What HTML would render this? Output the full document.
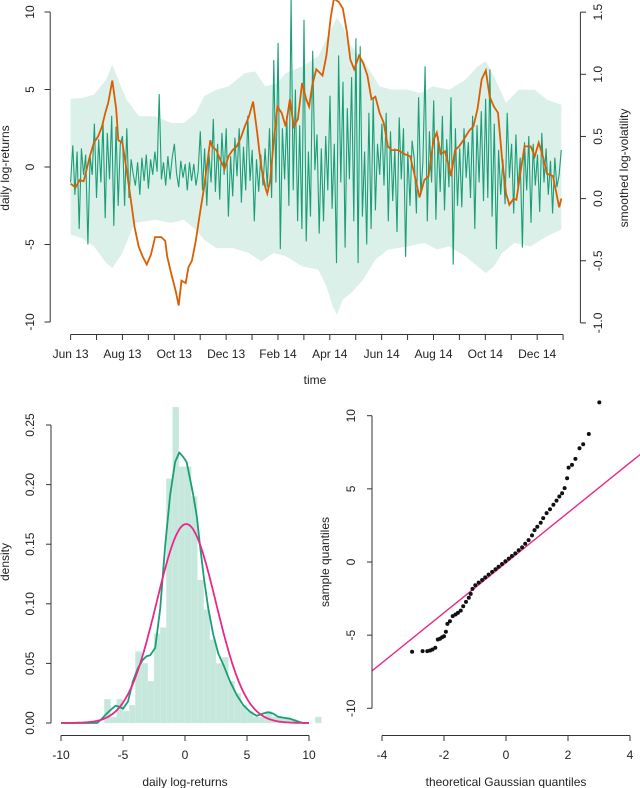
<!DOCTYPE html>
<html><head><meta charset="utf-8">
<style>
html,body{margin:0;padding:0;background:#fff;}
svg{display:block;font-family:"Liberation Sans",sans-serif;}
text{fill:#222;font-size:12px;}
</style></head>
<body>
<svg id="s" width="640" height="788" viewBox="0 0 640 788" xmlns="http://www.w3.org/2000/svg"></svg>
<script>
// ---------- top chart data ----------
const monthLabels = ["Jun 13","Aug 13","Oct 13","Dec 13","Feb 14","Apr 14","Jun 14","Aug 14","Oct 14","Dec 14"];
const retTicks = [-10,-5,0,5,10];
const volTicks = [-1.0,-0.5,0.0,0.5,1.0,1.5];
const returnsEnd = 18.93;
const returns = [
-1,1.4,-1.8,1,-4,1.2,-0.5,0.8,-5,0.7,-0.5,2.8,-2,1.8,-1,3,-3.3,2.2,-0.8,3.3,-3.8,2.6,-2.5,1.5,
2,-2.5,2.5,-2,0.5,-0.5,-1.2,0.3,-1.8,0.6,-0.9,0.8,-1.4,0.5,-0.5,1,-0.3,4.7,-0.8,0.3,-1.2,0.7,-0.8,0.6,1.5,-0.4,-1.3,0.4,-0.7,0.2,-1.5,0.3,-0.9,0.2,-1.2,-0.3,
2.3,-1.5,1.2,-2.5,0.9,-1,3.1,-1.6,1.5,-2.1,2.2,-0.5,2.5,-3.2,0.7,-1.9,1.9,-0.6,2.5,-2.3,1.3,-1.5,3.3,-0.9,1.1,-3.5,0.5,-1.6,0.8,-1.2,
1.2,-1.3,2.5,-2,6.9,-1,8,-5.3,2.5,-0.8,3.3,-2.5,10.9,-1.5,5,-3.5,2.7,-4,9.5,-4.8,1,-3.2,7.5,-0.2,2.1,-4.3,1.2,-3.5,2,-1.5,4.6,-2.7,1.5,-6.2,7.2,-1,5.5,-5.2,3.8,-0.8,5.8,-3.5,8.3,-6.2,7.8,-3.2,1,-5,3.5,-4,4.5,-2.8,1.5,-0.5,
2.8,-1.2,3.5,-3.5,2.3,-2.2,1.2,-4.2,3.2,-0.8,2.5,-5.8,1,-2.5,1.7,0.5,-3,4.5,-1.8,0.3,6.5,-3.5,2.3,-1,4.3,-3.4,2,-1.6,3.3,-2.8,1.8,-1.3,4.5,-6.3,2.5,-2.5,1.2,-2.6,2.5,-0.7,1.6,-2,3.3,-4,2.7,-1,3.6,-2.2,
4.4,-2,6.3,-3.2,2.8,-5.3,1.1,-1.8,0.5,-2.4,3.5,-0.7,1.5,-3,2.1,-1.4,0.6,-5.2,1.6,-1.5,2,-3.6,1.5,-1.2,0.8,-2.9,2.2,-1,1.2,-1.8,0.4,-3,0.6,-1.3,-0.5,1.1];
const volTime = [0,0.19,0.35,0.5,0.58,0.74,0.9,1.06,1.21,1.34,1.45,1.61,1.76,1.84,2,2.16,2.31,2.47,2.63,2.79,2.94,3.1,3.26,3.5,3.65,3.73,3.89,4.05,4.17,4.28,4.44,4.55,4.68,4.83,4.99,5.15,5.31,5.39,5.46,5.62,5.78,5.94,6.09,6.25,6.41,6.57,6.72,6.88,7.04,7.2,7.35,7.51,7.59,7.7,7.83,7.98,8.14,8.3,8.46,8.61,8.77,8.93,9.09,9.2,9.32,9.48,9.72,9.87,10.03,10.16,10.35,10.5,10.66,10.79,10.94,11.13,11.29,11.45,11.61,11.76,11.92,12.08,12.24,12.39,12.63,12.87,13.1,13.26,13.46,13.65,13.81,14,14.13,14.28,14.44,14.6,14.68,14.83,14.99,15.15,15.39,15.54,15.7,15.86,16.02,16.17,16.33,16.49,16.65,16.8,16.93,17.09,17.2,17.35,17.51,17.75,17.91,18.06,18.22,18.38,18.61,18.85,18.93];
const volValue = [0.12,0.09,0.15,0.14,0.2,0.34,0.45,0.5,0.58,0.69,0.77,0.95,0.72,0.47,0.45,0.23,0.01,-0.23,-0.39,-0.47,-0.53,-0.45,-0.31,-0.31,-0.34,-0.47,-0.61,-0.74,-0.86,-0.66,-0.68,-0.55,-0.5,-0.34,-0.12,0.09,0.34,0.47,0.42,0.39,0.31,0.24,0.34,0.39,0.42,0.49,0.58,0.66,0.78,0.53,0.26,0.09,0.04,0.15,0.45,0.74,0.69,0.58,0.8,0.58,0.64,0.93,0.8,0.74,0.91,1.04,0.99,1.15,1.45,1.61,1.58,1.53,1.34,1.12,1.04,1.15,1.09,0.99,0.8,0.82,0.69,0.61,0.42,0.39,0.39,0.36,0.34,0.2,0.01,0.15,0.18,0.47,0.53,0.36,0.38,0.26,0.18,0.39,0.42,0.47,0.55,0.58,0.72,0.96,1.03,0.82,0.74,0.69,0.31,0.04,-0.05,0,-0.01,0.2,0.42,0.42,0.34,0.45,0.34,0.2,0.18,-0.07,0];
const bandUpTime = [0,0.43,0.9,1.37,1.61,1.84,2.16,2.63,3.26,3.89,4.36,4.83,5.15,5.62,6.09,6.72,7.12,7.51,7.98,8.3,8.93,9.56,10.03,10.27,10.5,10.82,11.29,11.61,11.92,12.39,13.02,13.5,13.97,14.6,15.23,15.7,16.02,16.33,16.8,17.28,17.91,18.38,18.93];
const bandUp = [4.39,4.45,4.67,5.63,6.6,5.63,4.34,3.27,3.27,2.84,2.84,3.48,4.56,4.99,5.2,6.06,6.17,5.2,5.42,6.06,6.49,7.14,8.86,9.61,9.08,7.78,6.92,6.06,5.2,4.99,4.99,4.77,5.2,4.99,5.63,6.49,6.82,5.85,4.13,4.99,4.99,4.34,4.02];
const bandLoTime = [0,0.43,0.9,1.37,1.61,2,2.47,3.26,3.89,4.36,4.83,5.15,5.62,6.25,6.88,7.35,7.83,8.3,8.93,9.56,9.87,10.11,10.27,10.5,10.82,11.29,11.76,12.24,13.02,13.65,14.13,14.6,15.23,15.7,16.02,16.33,16.65,17.12,17.75,18.38,18.93];
const bandLo = [-4.37,-4.58,-5.12,-6.19,-6.52,-5.55,-3.61,-3.4,-3.61,-3.4,-4.04,-4.69,-5.23,-5.23,-5.55,-6.09,-5.55,-5.76,-6.41,-6.62,-7.7,-8.99,-9.53,-8.56,-8.13,-7.27,-5.98,-5.33,-5.12,-4.9,-5.33,-5.12,-5.76,-6.41,-6.84,-6.41,-5.55,-4.9,-5.12,-4.47,-4.04];

// ---------- histogram data ----------
const histLeft = [-6.5,-6,-5.5,-5,-4.5,-4,-3.5,-3,-2.5,-2,-1.5,-1,-0.5,0,0.5,1,1.5,2,2.5,3,3.5,4,4.5,5,5.5,6,6.5,7,7.5,8,8.5,10.5];
const histDensity = [0.02,0.005,0.02,0.01,0.015,0.06,0.05,0.035,0.075,0.08,0.205,0.265,0.215,0.215,0.19,0.12,0.095,0.07,0.05,0.055,0.035,0.025,0.015,0.01,0.005,0.005,0.01,0.005,0.005,0.005,0.003,0.005];
const histBinWidth = 0.5;
const kdeX = [-10,-7.1,-6.8,-6.4,-6,-5.6,-5.3,-5,-4.6,-4.2,-3.8,-3.4,-3.1,-2.8,-2.4,-2,-1.6,-1.2,-0.8,-0.46,-0.13,0.13,0.4,0.67,0.94,1.21,1.53,1.88,2.28,2.69,3.09,3.63,4.17,4.7,5.24,5.78,6.3,6.7,7.1,7.5,7.9,8.5,9,9.5,10];
const kdeY = [0,0,0.0025,0.007,0.011,0.0145,0.0137,0.012,0.018,0.035,0.046,0.053,0.056,0.057,0.063,0.096,0.149,0.191,0.219,0.227,0.223,0.219,0.205,0.191,0.174,0.149,0.121,0.096,0.074,0.058,0.049,0.035,0.0235,0.015,0.0095,0.006,0.008,0.009,0.008,0.0053,0.0045,0.0034,0.0017,0,0];
const normMean = 0.1, normSd = 2.39;
const histXTicks = [-10,-5,0,5,10];
const histYTicks = [0,0.05,0.1,0.15,0.2,0.25];

// ---------- QQ data ----------
const qqTheo = [-3.03,-2.69,-2.54,-2.45,-2.37,-2.28,-2.2,-2.13,-2.06,-2.0,-1.94,-1.89,-1.81,-1.72,-1.63,-1.55,-1.46,-1.38,-1.29,-1.2,-1.14,-1.08,-0.99,-0.88,-0.77,-0.67,-0.56,-0.45,-0.34,-0.24,-0.13,-0.02,0.09,0.19,0.3,0.41,0.52,0.62,0.73,0.84,0.92,1.01,1.12,1.2,1.31,1.42,1.53,1.63,1.72,1.81,1.89,1.97,2.02,2.13,2.24,2.37,2.49,2.67,3.01];
const qqSample = [-6.14,-6.09,-6.09,-6.05,-5.98,-5.86,-5.3,-5.25,-5.14,-5.07,-4.77,-4.23,-4.05,-3.7,-3.59,-3.48,-3.32,-3.02,-2.73,-2.45,-2.18,-1.84,-1.59,-1.41,-1.23,-1.05,-0.86,-0.68,-0.5,-0.32,-0.14,0.05,0.23,0.41,0.59,0.8,1.0,1.25,1.5,1.82,2.18,2.41,2.68,3.0,3.34,3.61,3.91,4.2,4.48,4.7,5.05,5.73,6.45,6.64,7.05,7.77,8.05,8.75,10.91];
const qqLineIntercept = -0.05, qqLineSlope = 1.71;
const qqXTicks = [-4,-2,0,2,4];
const qqYTicks = [-10,-5,0,5,10];

// ---------- helpers ----------
const NS = "http://www.w3.org/2000/svg";
const svgRoot = document.getElementById('s');
function mk(tag, attrs, parent){
  const e = document.createElementNS(NS, tag);
  for (const k in attrs) e.setAttribute(k, attrs[k]);
  (parent||svgRoot).appendChild(e);
  return e;
}
function txt(x,y,s,rot,parent,anchor){
  const t = mk('text',{x:x,y:y,'text-anchor':anchor||'middle','dominant-baseline':'middle'},parent);
  if(rot) t.setAttribute('transform','rotate(-90 '+x+' '+y+')');
  t.textContent = s;
  return t;
}
const AX = '#333';

// ---------- top chart ----------
const tx = m => 70.6 + m*25.92;
const ty = v => 167 - v*15.5;
const tyv = v => 198.6 - v*124.3;

const defsEl = mk('defs',{});
const cp = mk('clipPath',{id:'topclip'},defsEl);
mk('rect',{x:50,y:0,width:530,height:333},cp);

const topG = mk('g',{'clip-path':'url(#topclip)'});



let bp = '';
bandUpTime.forEach((t,i)=>{ bp += (i?'L':'M')+tx(t).toFixed(1)+','+ty(bandUp[i]).toFixed(1); });
for(let i=bandLoTime.length-1;i>=0;i--){ bp += 'L'+tx(bandLoTime[i]).toFixed(1)+','+ty(bandLo[i]).toFixed(1); }
const band = mk('path',{d:bp+'Z',fill:'#dcf0ea',stroke:'none'},topG);



let rp = '';
returns.forEach((v,i)=>{ const m = i/(returns.length-1)*returnsEnd; rp += (i?'L':'M')+tx(m).toFixed(1)+','+ty(v).toFixed(1); });
const rl = mk('path',{d:rp,fill:'none',stroke:'#1b9e77','stroke-width':1.1},topG);



let vp = '';
volTime.forEach((t,i)=>{ vp += (i?'L':'M')+tx(t).toFixed(1)+','+tyv(volValue[i]).toFixed(1); });
const vl = mk('path',{d:vp,fill:'none',stroke:'#d95f02','stroke-width':1.8},topG);



// left axis
const la = mk('g',{stroke:AX,'stroke-width':1});


mk('line',{x1:50.2,y1:ty(10),x2:50.2,y2:ty(-10)},la);
retTicks.forEach(v=>{ mk('line',{x1:44.5,y1:ty(v),x2:50.2,y2:ty(v)},la); txt(31,ty(v),String(v),true,null); });
// right axis
const ra = mk('g',{stroke:AX,'stroke-width':1});


mk('line',{x1:580.4,y1:tyv(1.5),x2:580.4,y2:tyv(-1)},ra);
volTicks.forEach(v=>{ mk('line',{x1:580.4,y1:tyv(v),x2:586,y2:tyv(v)},ra); txt(599,tyv(v),v.toFixed(1),true,null); });
// x axis
const xa = mk('g',{stroke:AX,'stroke-width':1});


mk('line',{x1:tx(0),y1:334.5,x2:tx(19),y2:334.5},xa);
for(let m=0;m<=19;m++) mk('line',{x1:tx(m),y1:334.5,x2:tx(m),y2:340},xa);
monthLabels.forEach((s,i)=>{ txt(tx(i*2),355,s,false,null); });
const t1=txt(315,381,'time',false,null);  
const t2=txt(6,168,'daily log-returns',true,null);  
const t3=txt(625,168,'smoothed log-volatility',true,null);  

// ---------- histogram ----------
const hx = v => 185 + v*12.4;
const hy = d => 723 - d*1192;
const hg = mk('g',{});


histLeft.forEach((l,i)=>{
  const r = mk('rect',{x:hx(l).toFixed(1),y:hy(histDensity[i]).toFixed(1),width:(histBinWidth*12.4).toFixed(1),height:(histDensity[i]*1192).toFixed(1),fill:'#c6e7dc',stroke:'#d4ede5','stroke-width':0.4},hg);
  
  
});
let kp='';
kdeX.forEach((x,i)=>{ kp += (i?'L':'M')+hx(x).toFixed(1)+','+hy(kdeY[i]).toFixed(1); });
const kl = mk('path',{d:kp,fill:'none',stroke:'#1b9e77','stroke-width':1.8,'stroke-linejoin':'round'});


let np='';
for(let k=0;k<=200;k++){ const x=-10+k*0.1; const d=Math.exp(-0.5*Math.pow((x-normMean)/normSd,2))/(normSd*Math.sqrt(2*Math.PI)); np += (k?'L':'M')+hx(x).toFixed(1)+','+hy(d).toFixed(1); }
const nl = mk('path',{d:np,fill:'none',stroke:'#e7298a','stroke-width':1.8});


const hya = mk('g',{stroke:AX});


mk('line',{x1:51,y1:hy(0),x2:51,y2:hy(0.25)},hya);
histYTicks.forEach(v=>{ mk('line',{x1:46,y1:hy(v),x2:51,y2:hy(v)},hya); txt(31,hy(v),v.toFixed(2),true,null); });
const hxa = mk('g',{stroke:AX});


mk('line',{x1:hx(-10),y1:735.5,x2:hx(10),y2:735.5},hxa);
histXTicks.forEach(v=>{ mk('line',{x1:hx(v),y1:735.5,x2:hx(v),y2:741},hxa); txt(hx(v),756,String(v),false,null); });
const t4=txt(185,783,'daily log-returns',false,null);  
const t5=txt(6,562,'density',true,null);  

// ---------- QQ plot ----------
const qx = v => 506 + v*31;
const qy = v => 562 - v*14.63;
const cp2 = mk('clipPath',{id:'qqclip'},defsEl);
mk('rect',{x:372,y:395,width:268,height:335},cp2);
const qline = mk('line',{x1:qx(-4.35),y1:qy(qqLineIntercept+qqLineSlope*-4.35),x2:qx(4.35),y2:qy(qqLineIntercept+qqLineSlope*4.35),stroke:'#e7298a','stroke-width':1.4,'clip-path':'url(#qqclip)'});


const qg = mk('g',{fill:'#111'});


qqTheo.forEach((t,i)=>{
  const c = mk('circle',{cx:qx(t).toFixed(1),cy:qy(qqSample[i]).toFixed(1),r:2},qg);
  
  
});
const qya = mk('g',{stroke:AX});


mk('line',{x1:372,y1:qy(10),x2:372,y2:qy(-10)},qya);
qqYTicks.forEach(v=>{ mk('line',{x1:367,y1:qy(v),x2:372,y2:qy(v)},qya); txt(352,qy(v),String(v),true,null); });
const qxa = mk('g',{stroke:AX});


mk('line',{x1:qx(-4),y1:735.5,x2:qx(4),y2:735.5},qxa);
qqXTicks.forEach(v=>{ mk('line',{x1:qx(v),y1:735.5,x2:qx(v),y2:741},qxa); txt(qx(v),756,String(v),false,null); });
const t6=txt(506,783,'theoretical Gaussian quantiles',false,null);  
const t7=txt(326,562,'sample quantiles',true,null);  
</script>
</body></html>
